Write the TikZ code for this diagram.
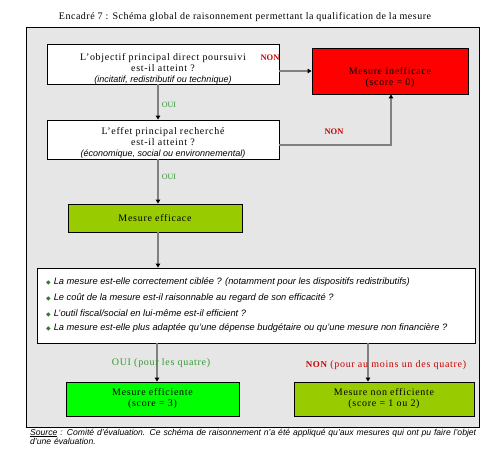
\documentclass[tikz,border=0pt]{standalone}
\usepackage{fontspec}
\setmainfont{Liberation Serif}
\newfontfamily\listfont{Liberation Sans}
\newfontfamily\boxfont[LetterSpace=7]{Liberation Serif}
\newfontfamily\titlefont[LetterSpace=5]{Liberation Serif}
\newfontfamily\symfont{DejaVu Sans}
\usetikzlibrary{arrows.meta}
\definecolor{panelgray}{HTML}{E6E6E6}
\definecolor{redbox}{HTML}{FF0000}
\definecolor{olivegreen}{HTML}{99CC00}
\definecolor{brightgreen}{HTML}{00FF00}
\definecolor{ouigreen}{HTML}{339933}
\definecolor{nonred}{HTML}{CC0000}
\definecolor{bulgreen}{HTML}{2E7D32}
\newcommand{\bulletmark}{\textcolor{bulgreen}{\symfont\fontsize{6}{6}\selectfont ◆}\hspace{3pt}}
\newcommand{\subline}[1]{{\listfont\itshape\fontsize{9}{11}\selectfont #1}}
\begin{document}
\begin{tikzpicture}[x=1pt,y=-1pt,
  frame/.style={draw=black,line width=0.8pt,inner sep=0pt},
  btext/.style={align=center,inner sep=0pt,font=\boxfont\fontsize{10}{11}\selectfont},
  flow/.style={draw=gray,line width=1.3pt,-{Triangle[color=black,fill=black,length=4pt,width=4.5pt]}},
  ouilab/.style={text=ouigreen,font=\fontsize{8}{10}\selectfont},
  nonlab/.style={text=nonred,font=\bfseries\fontsize{8.5}{10}\selectfont},
  biglab/.style={font=\boxfont\fontsize{10}{11}\selectfont},
  listline/.style={anchor=west,inner sep=0pt,font=\listfont\itshape\fontsize{9.3}{10}\selectfont}
]
\useasboundingbox (0,0) rectangle (491,463);
\node[font=\titlefont\fontsize{10}{11}\selectfont] (title) at (245,17) {Encadré 7 : Schéma global de raisonnement permettant la qualification de la mesure};
\draw[fill=panelgray,draw=black,line width=0.8pt] (26,27) rectangle (479,427);

\node[frame,fill=white,minimum width=232pt,minimum height=40pt] (b1) at (163,64) {};
\node[btext] (b1t) at (163,69) {L’objectif principal direct poursuivi\\est-il atteint ?\\\subline{(incitatif, redistributif ou technique)}};
\node[frame,fill=white,minimum width=232pt,minimum height=39pt] (b2) at (163,139.5) {};
\node[btext] (b2t) at (163,143) {L’effet principal recherché\\est-il atteint ?\\\subline{(économique, social ou environnemental)}};
\node[frame,fill=redbox,minimum width=156pt,minimum height=46pt] (ineff) at (390,71) {};
\node[btext] (innefft) at (390,77.5) {Mesure inefficace\\(score = 0)};
\node[frame,fill=olivegreen,minimum width=174pt,minimum height=28pt,btext] (eff) at (155,218) {Mesure efficace};
\node[frame,fill=white,minimum width=438pt,minimum height=75pt] (list) at (256,305.5) {};
\node[listline] (l1) at (46,282) {\bulletmark La mesure est-elle correctement ciblée ? (notamment pour les dispositifs redistributifs)};
\node[listline] (l2) at (46,298) {\bulletmark Le coût de la mesure est-il raisonnable au regard de son efficacité ?};
\node[listline] (l3) at (46,313) {\bulletmark L’outil fiscal/social en lui-même est-il efficient ?};
\node[listline] (l4) at (46,328) {\bulletmark La mesure est-elle plus adaptée qu’une dépense budgétaire ou qu’une mesure non financière ?};
\node[frame,fill=brightgreen,minimum width=173pt,minimum height=34pt,btext] (effi) at (152.5,399) {Mesure efficiente\\(score = 3)};
\node[frame,fill=olivegreen,minimum width=180pt,minimum height=34pt,btext] (noneffi) at (384,399) {Mesure non efficiente\\(score = 1 ou 2)};

\coordinate (ax) at (158,0);
\coordinate (ax2) at (157,0);
\coordinate (ax3) at (368,0);
\coordinate (ax4) at (391,0);
\coordinate (b2e) at (279,145);

\draw[flow] (b1.south -| ax) -- (b2.north -| ax);
\draw[flow] (b2.south -| ax) -- (eff.north -| ax);
\draw[flow] (eff.south -| ax) -- (list.north -| ax);
\draw[flow] (list.south -| ax2) -- (effi.north -| ax2);
\draw[flow] (list.south -| ax3) -- (noneffi.north -| ax3);
\draw[flow] (b1.east |- ineff.west) -- (ineff.west);
\draw[flow] (b2e) -- (b2e -| ax4) -- (ineff.south -| ax4);

\node[ouilab] (oui1) at (169,105) {OUI};
\node[ouilab] (oui2) at (169,177) {OUI};
\node[nonlab] (non1) at (270,58) {NON};
\node[nonlab] (non2) at (334,132) {NON};
\node[biglab,text=ouigreen] (oui3) at (161,363) {OUI (pour les quatre)};
\node[biglab,text=nonred] (non3) at (386,365) {{\bfseries\fontsize{9}{11}\selectfont NON} (pour au moins un des quatre)};

\node[anchor=north west,inner sep=0pt,align=left,text width=470pt,font=\listfont\itshape\fontsize{8.6}{9.5}\selectfont] (src) at (30,428.5)
  {\underline{Source} : Comité d’évaluation. Ce schéma de raisonnement n’a été appliqué qu’aux mesures qui ont pu faire l’objet\\d’une évaluation.};
\end{tikzpicture}
\end{document}
